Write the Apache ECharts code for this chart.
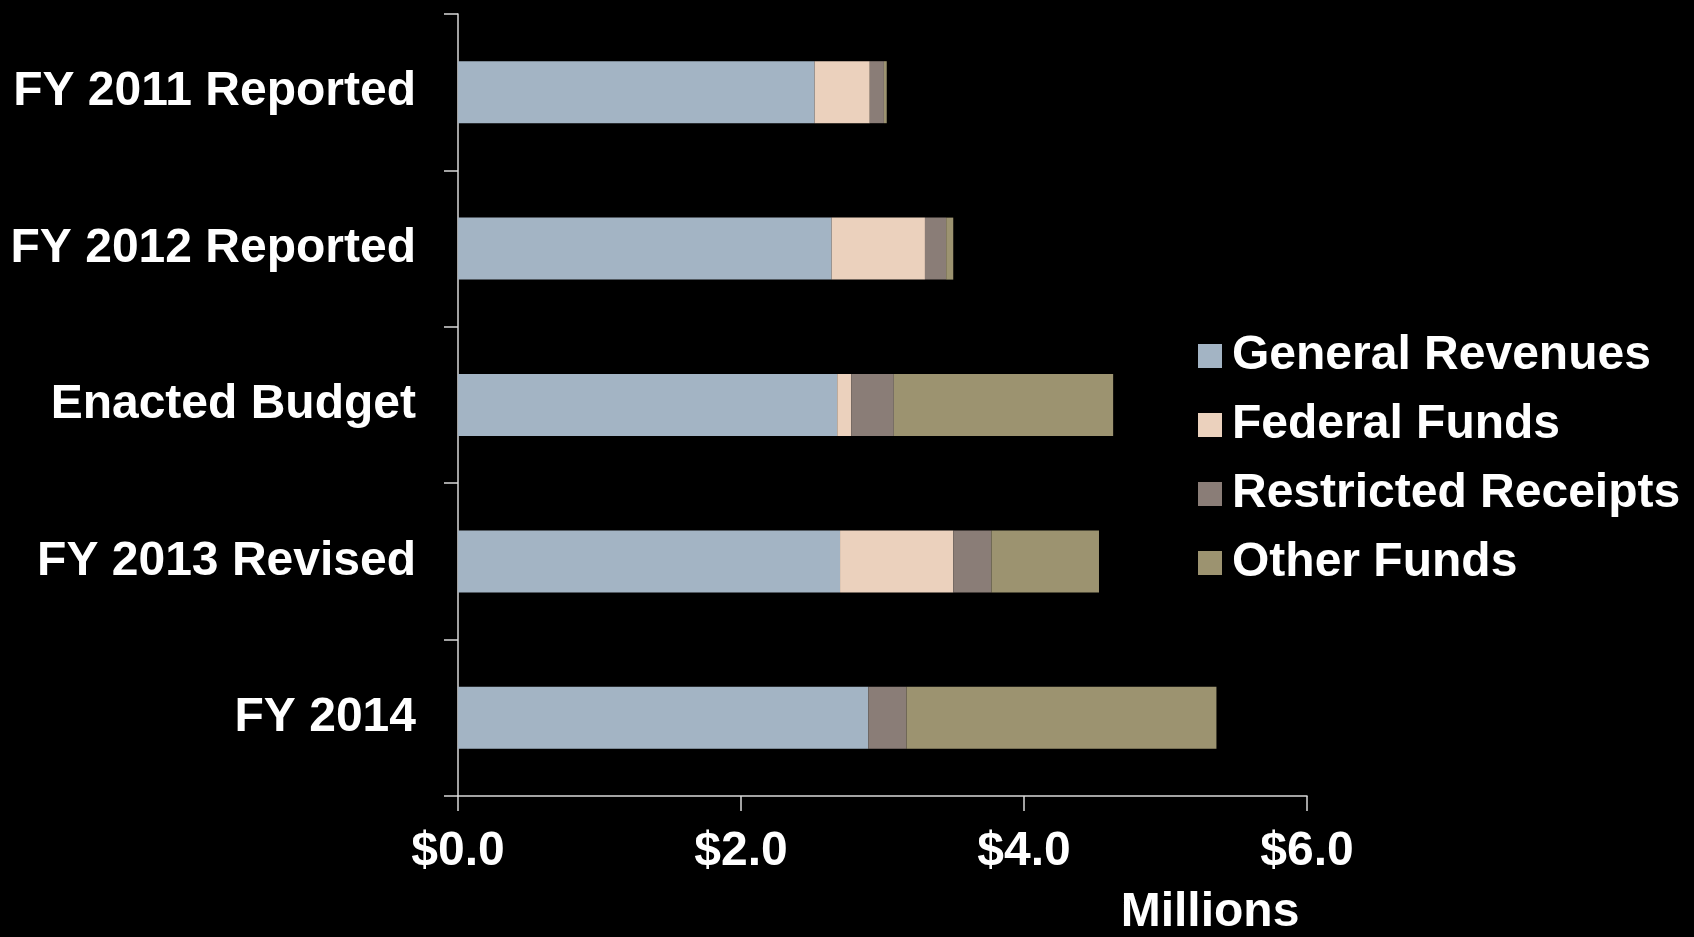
<!DOCTYPE html>
<html><head><meta charset="utf-8">
<script src="https://cdn.jsdelivr.net/npm/echarts@6/dist/echarts.min.js"></script>
<style>html,body{margin:0;padding:0;background:#000;}#c{width:1694px;height:937px;}</style>
</head><body><div id="c"></div>
<script>
const categories = ['FY 2011 Reported','FY 2012 Reported','Enacted Budget','FY 2013 Revised','FY 2014'];
const generalRevenues = [2.52, 2.64, 2.68, 2.70, 2.90];
const federalFunds = [0.39, 0.66, 0.10, 0.80, 0.00];
const restrictedReceipts = [0.10, 0.15, 0.30, 0.27, 0.27];
const otherFunds = [0.02, 0.05, 1.55, 0.76, 2.19];
const xTicks = [0, 2, 4, 6];

const font = '"Liberation Sans", Arial, sans-serif';
const chart = echarts.init(document.getElementById('c'));
function s(name, data, color) {
  return {name, type:'bar', stack:'t', data, barWidth:62,
    itemStyle:{color}, emphasis:{disabled:true}};
}
chart.setOption({
  backgroundColor:'#000',
  animation:false,
  textStyle:{fontFamily:font},
  grid:{left:458, top:14, width:849, bottom:138, containLabel:false},
  legend:{
    orient:'vertical', left:1193, top:327, itemWidth:24, itemHeight:24, itemGap:21,
    icon:'rect',
    textStyle:{color:'#fff', fontSize:48, fontWeight:'bold', fontFamily:font, padding:[0,0,0,5]},
    data:['General Revenues','Federal Funds','Restricted Receipts','Other Funds']
  },
  xAxis:{
    type:'value', min:xTicks[0], max:xTicks[xTicks.length-1], interval:2,
    name:'Millions', nameLocation:'end', nameGap:0,
    nameTextStyle:{color:'#fff', fontSize:48, fontWeight:'bold', fontFamily:font, align:'center', verticalAlign:'top', padding:[93,0,0,-194]},
    axisLine:{show:true, lineStyle:{color:'#d9d9d9', width:1.5}},
    axisTick:{show:true, length:15, lineStyle:{color:'#d9d9d9', width:1.5}},
    splitLine:{show:false},
    axisLabel:{color:'#fff', fontSize:48, fontWeight:'bold', fontFamily:font, margin:32,
      formatter:v=>'$'+v.toFixed(1)}
  },
  yAxis:{
    type:'category', data:categories, inverse:true,
    axisLine:{show:true, lineStyle:{color:'#d9d9d9', width:1.5}},
    axisTick:{show:true, length:14, lineStyle:{color:'#d9d9d9', width:1.5}},
    axisLabel:{color:'#fff', fontSize:48, fontWeight:'bold', fontFamily:font, margin:42}
  },
  series:[
    s('General Revenues', generalRevenues, '#a3b4c4'),
    s('Federal Funds', federalFunds, '#ebd1bd'),
    s('Restricted Receipts', restrictedReceipts, '#8a7d77'),
    s('Other Funds', otherFunds, '#9c9370')
  ]
});
</script></body></html>
